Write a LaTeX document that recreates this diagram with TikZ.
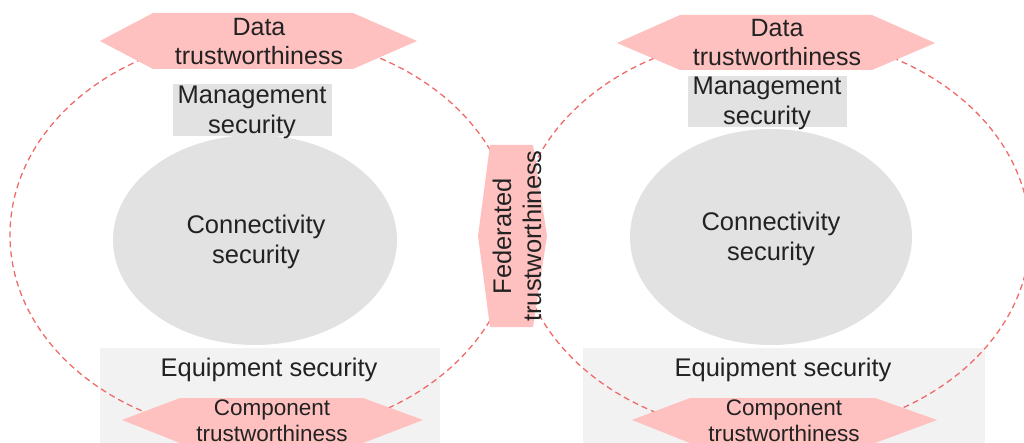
\documentclass[tikz,border=0pt]{standalone}
\usepackage{fontspec}
\setmainfont{Liberation Sans}
\definecolor{pinkfill}{HTML}{FFC0C0}
\definecolor{dashred}{HTML}{F06A6A}
\definecolor{midgray}{HTML}{E2E2E2}
\definecolor{lightgray}{HTML}{F2F2F2}
\definecolor{txt}{HTML}{222222}
\begin{document}
\begin{tikzpicture}[x=1pt,y=-1pt,
  lbl/.style={text=txt,align=center,inner sep=0pt,font=\fontsize{25.5}{30}\selectfont},
  dlbl/.style={text=txt,align=center,inner sep=0pt,font=\fontsize{25}{29}\selectfont},
  slbl/.style={text=txt,align=center,inner sep=0pt,font=\fontsize{22.5}{26}\selectfont},
  hexfill/.style={fill=pinkfill,draw=none},
  ring/.style={draw=dashred,dash pattern=on 6pt off 4pt,line width=1.3pt}]
\useasboundingbox (0,0) rectangle (1024,443);
% equipment boxes
\fill[lightgray] (100,348) rectangle (440,443);
\fill[lightgray] (583,348) rectangle (985,443);
\node[lbl] (eqL) at (269,370) {Equipment security};
\node[lbl] (eqR) at (783,370) {Equipment security};
% connectivity
\fill[midgray] (255,240) ellipse [x radius=142, y radius=105];
\fill[midgray] (771,237) ellipse [x radius=141, y radius=108];
\node[lbl] (conL) at (256,242) {Connectivity\\security};
\node[lbl] (conR) at (771,239) {Connectivity\\security};
% management
\fill[midgray] (173,84) rectangle (332,136);
\fill[midgray] (688,76) rectangle (847,127);
\node[lbl] (manL) at (252,112) {Management\\security};
\node[lbl] (manR) at (767,103) {Management\\security};
% dashed rings
\draw[ring] (262,235) ellipse [x radius=252, y radius=200];
\draw[ring] (774,235) ellipse [x radius=256, y radius=200];
% data hexagons
\fill[hexfill] (100,41) -- (153,13) -- (353,13) -- (417,41) -- (353,69) -- (153,69) -- cycle;
\fill[hexfill] (617,43) -- (680,15) -- (872,15) -- (935,43) -- (872,70) -- (680,70) -- cycle;
\node[dlbl] (dataL) at (259,42) {Data\\trustworthiness};
\node[dlbl] (dataR) at (777,43) {Data\\trustworthiness};
% component hexagons
\fill[hexfill] (122,420) -- (180,398) -- (363,398) -- (423,420) -- (363,443) -- (180,443) -- cycle;
\fill[hexfill] (632,420) -- (690,398) -- (875,398) -- (937,420) -- (875,443) -- (690,443) -- cycle;
\node[slbl] (compL) at (272,421) {Component\\trustworthiness};
\node[slbl] (compR) at (784,421) {Component\\trustworthiness};
% federated hexagon
\fill[hexfill] (490,145) -- (533,145) -- (547,236) -- (533,327) -- (490,327) -- (478,236) -- cycle;
\node[lbl,rotate=90] (fed) at (517,236) {Federated\\trustworthiness};
\end{tikzpicture}
\end{document}
